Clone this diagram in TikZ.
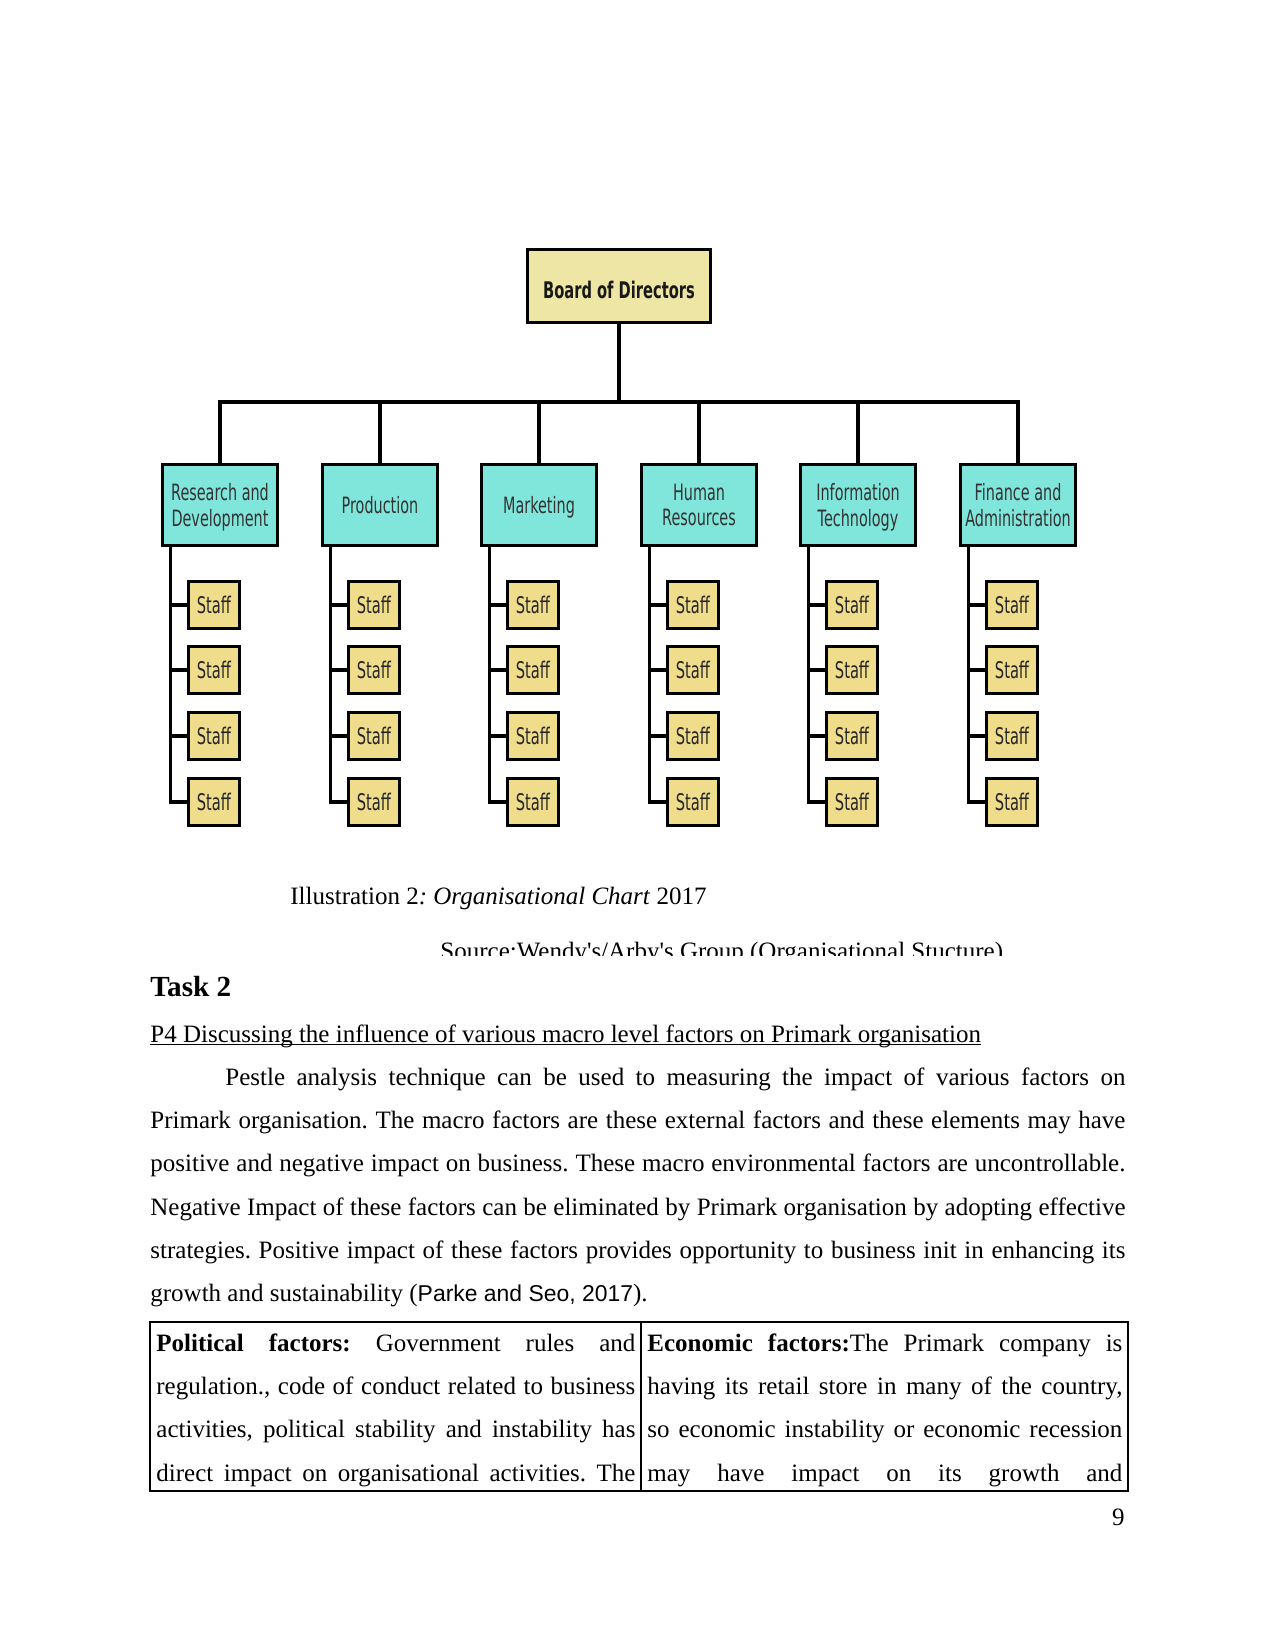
\documentclass[tikz,border=0pt]{standalone}
\usepackage{fontspec}
\setmainfont{Liberation Serif}
\newfontfamily\chartfont[FakeStretch=0.64]{DejaVu Sans}
\newfontfamily\citefont{Liberation Sans}
\usetikzlibrary{positioning}
\frenchspacing
\definecolor{boardfill}{RGB}{238,230,165}
\definecolor{deptfill}{RGB}{128,229,218}
\definecolor{stafffill}{RGB}{240,221,140}
\tikzset{
  boardbox/.style={draw,line width=1.5pt,fill=boardfill,minimum width=88pt,minimum height=35pt,
    inner sep=0pt,text height=12pt,text=black!90,font=\chartfont\bfseries\fontsize{11}{13}\selectfont},
  deptbox/.style={draw,line width=1.5pt,fill=deptfill,minimum width=55pt,minimum height=39pt,
    inner sep=0pt,align=center,text depth=0pt,text=black!80,font=\chartfont\fontsize{10.8}{12.2}\selectfont},
  staffbox/.style={draw,line width=1.5pt,fill=stafffill,minimum width=24.2pt,minimum height=22.7pt,
    inner sep=0pt,text=black!85,font=\chartfont\fontsize{11}{13}\selectfont},
  link/.style={line width=1.5pt},
  body/.style={inner sep=0pt,font=\fontsize{12}{20.8}\selectfont},
  cell/.style={body,anchor=north west,align=justify}
}

\begin{document}
\begin{tikzpicture}[x=0.48pt,y=-0.48pt]
  \useasboundingbox (0,0) rectangle (1275,1650);
  % chart
  \node[boardbox] (board) at (619,286) {Board of Directors};
  \coordinate (bar) at (619,402);
  \foreach \i/\cx/\name in {1/220/{Research and\\Development},2/380/Production,3/539/Marketing,
      4/699/{Human\\Resources},5/858/{Information\\Technology},6/1018/{Finance and\\Administration}}{
    \node[deptbox] (d\i) at (\cx,505) {\name};
    \coordinate (sp\i) at (\cx-49.5,547);
    \foreach \k/\sy in {1/605,2/670,3/736,4/802}{
      \node[staffbox] (s\i-\k) at (\cx-6,\sy) {Staff};
    }
    \draw[link] (d\i.south -| sp\i) |- (s\i-4.west);
    \foreach \k in {1,2,3}
      \draw[link] (sp\i |- s\i-\k.west) -- (s\i-\k.west);
  }
  \draw[link] (board.south) -- (bar);
  \draw[link] (d1.north) |- (d6.north |- bar) -- (d6.north);
  \foreach \i in {2,3,4,5}
    \draw[link] (d\i.north) -- (d\i.north |- bar);

  % caption and source
  \node[body,anchor=base west] (caption) at (290,904) {Illustration 2\textit{: Organisational Chart} 2017};
  \begin{scope}
    \clip (0,0) rectangle (1275,955);
    \node[body,anchor=base west] (source) at (440,959) {Source:Wendy\textquotesingle s/Arby\textquotesingle s Group (Organisational Stucture)};
  \end{scope}

  % task text
  \node[inner sep=0pt,anchor=base west,font=\bfseries\fontsize{14}{16}\selectfont] (task) at (150,996) {Task 2};
  \node[body,anchor=base west] (head) at (150,1042) {P4 Discussing the influence of various macro level factors on Primark organisation};
  \draw[line width=0.6pt] ([yshift=-1.3pt]head.base west) -- ([yshift=-1.3pt]head.base east);
  \node[cell,text width=468pt] (para) at (150,1054.5) {\strut\hspace*{36pt}Pestle analysis technique can be used to measuring the impact of various factors on\linebreak
    Primark organisation. The macro factors are these external factors and these elements may have\linebreak
    positive and negative impact on business. These macro environmental factors are uncontrollable.\linebreak
    Negative Impact of these factors can be eliminated by Primark organisation by adopting effective\linebreak
    strategies. Positive impact of these factors provides opportunity to business init in enhancing its\linebreak
    growth and sustainability ({\citefont\fontsize{11}{20.8}\selectfont Parke and Seo, 2017}).};

  % table
  \draw[line width=0.6pt] (150,1322) rectangle (1128,1491);
  \draw[line width=0.6pt] (641,1322) -- (641,1491);
  \node[cell,text width=229.9pt] (political) at (156,1320.3) {\strut\textbf{Political factors:} Government rules and\linebreak
    regulation., code of conduct related to business\linebreak
    activities, political stability and instability has\linebreak
    direct impact on organisational activities. The{\parfillskip=0pt\par}};
  \node[cell,text width=228pt] (economic) at (647,1320.3) {\strut\textbf{Economic factors:}The Primark company is\linebreak
    having its retail store in many of the country,\linebreak
    so economic instability or economic recession\linebreak
    may have impact on its growth and{\parfillskip=0pt\par}};

  \node[body,anchor=base east] (pagenum) at (1125,1525) {9};
\end{tikzpicture}
\end{document}
